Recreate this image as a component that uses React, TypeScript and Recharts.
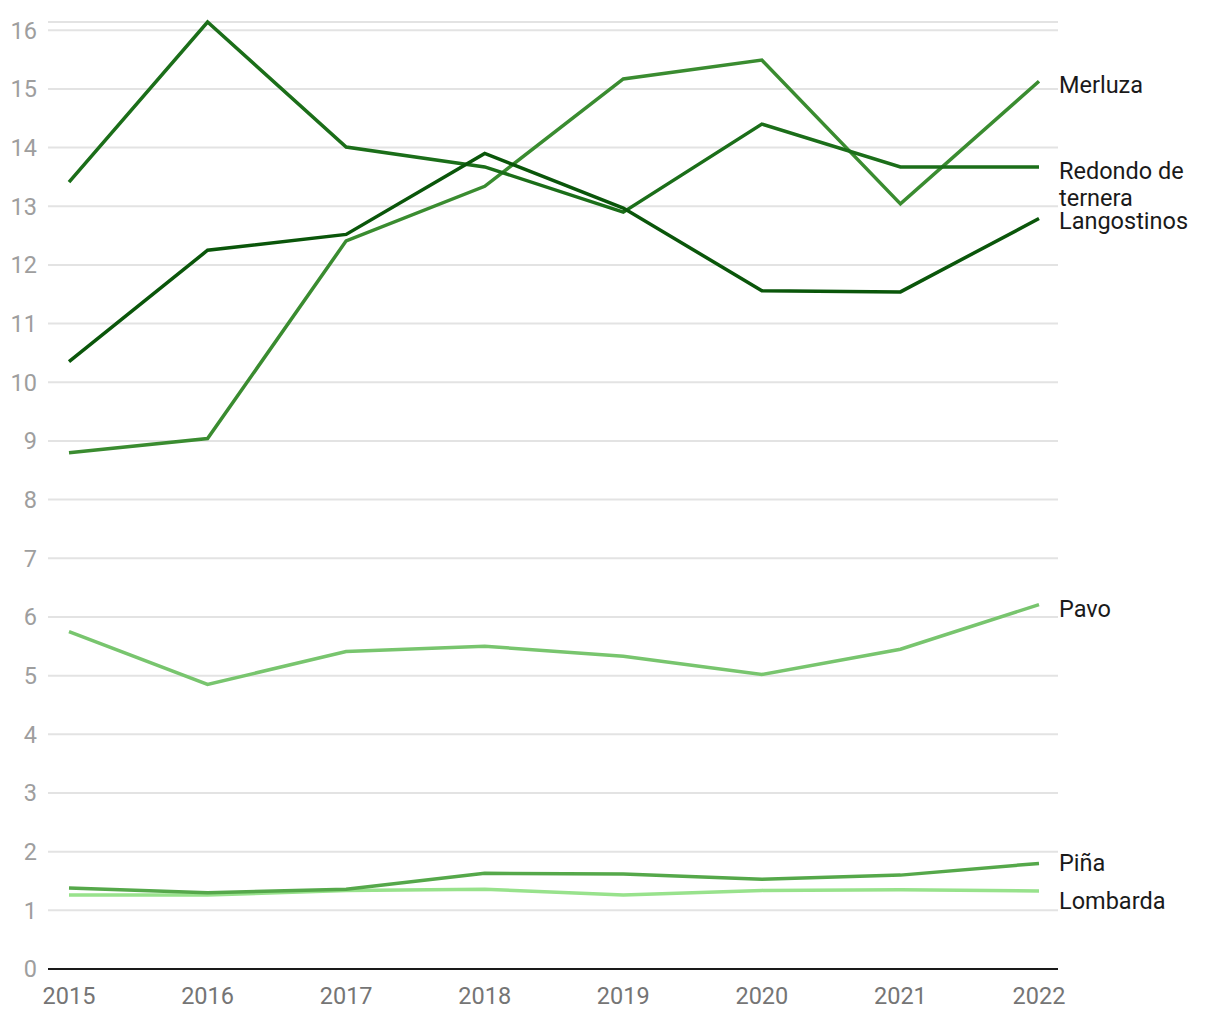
import { LineChart, Line, XAxis, YAxis, CartesianGrid } from 'recharts'

const YEARS = ['2015', '2016', '2017', '2018', '2019', '2020', '2021', '2022']
const MERLUZA = [8.8, 9.04, 12.41, 13.34, 15.17, 15.49, 13.04, 15.13]
const REDONDO = [13.41, 16.14, 14.01, 13.67, 12.9, 14.4, 13.67, 13.67]
const LANGOSTINOS = [10.35, 12.25, 12.52, 13.9, 12.97, 11.56, 11.54, 12.79]
const PAVO = [5.75, 4.85, 5.41, 5.5, 5.33, 5.02, 5.45, 6.21]
const PINA = [1.38, 1.3, 1.36, 1.63, 1.62, 1.53, 1.6, 1.8]
const LOMBARDA = [1.26, 1.26, 1.34, 1.36, 1.26, 1.34, 1.35, 1.33]
const Y_TICKS = [0, 1, 2, 3, 4, 5, 6, 7, 8, 9, 10, 11, 12, 13, 14, 15, 16]

const data = YEARS.map((year, i) => ({
  year,
  merluza: MERLUZA[i],
  redondo: REDONDO[i],
  langostinos: LANGOSTINOS[i],
  pavo: PAVO[i],
  pina: PINA[i],
  lombarda: LOMBARDA[i],
}))

// series: key, name lines, colour, label nudge
const SERIES = [
  { key: 'pavo', lines: ['Pavo'], color: '#78c56e', dy: 6 },
  { key: 'lombarda', lines: ['Lombarda'], color: '#98e28c', dy: 12 },
  { key: 'pina', lines: ['Piña'], color: '#55a84a', dy: 2 },
  { key: 'merluza', lines: ['Merluza'], color: '#3a8c30', dy: 6 },
  { key: 'redondo', lines: ['Redondo de', 'ternera'], color: '#1b6e19', dy: 6 },
  { key: 'langostinos', lines: ['Langostinos'], color: '#0a560a', dy: 4 },
]

const endLabel = (lines: string[], dy: number) => (props: any) => {
  const { x, y, index } = props
  if (index !== YEARS.length - 1) return null
  return (
    <text x={x + 20} y={y + dy} fill="#1a1a1a" fontSize={23.5} dominantBaseline="middle" textAnchor="start">
      {lines.map((l, i) => (
        <tspan key={i} x={x + 20} dy={i === 0 ? 0 : 27}>{l}</tspan>
      ))}
    </text>
  )
}

export default function App() {
  return (
    <div style={{ width: 1204, height: 1010, fontFamily: 'Roboto, sans-serif', background: '#fff' }}>
      <LineChart width={1204} height={1010} data={data} margin={{ top: 14, right: 154, left: 0, bottom: 0 }}>
        <CartesianGrid vertical={false} stroke="#e3e3e3" strokeWidth={2} />
        <XAxis
          dataKey="year"
          height={49}
          padding={{ left: 21, right: 19 }}
          tickLine={false}
          tickMargin={12}
          axisLine={{ stroke: '#1a1a1a', strokeWidth: 2 }}
          tick={{ fill: '#757575', fontSize: 23.5 }}
          interval={0}
        />
        <YAxis
          width={40}
          domain={[0, 16]}
          ticks={Y_TICKS}
          interval={0}
          axisLine={false}
          tickLine={false}
          tickMargin={5}
          tick={{ fill: '#9e9e9e', fontSize: 23.5 }}
        />
        {SERIES.map(s => (
          <Line
            key={s.key}
            dataKey={s.key}
            type="linear"
            stroke={s.color}
            strokeWidth={3.5}
            dot={false}
            activeDot={false}
            isAnimationActive={false}
            label={endLabel(s.lines, s.dy)}
          />
        ))}
      </LineChart>
    </div>
  )
}
